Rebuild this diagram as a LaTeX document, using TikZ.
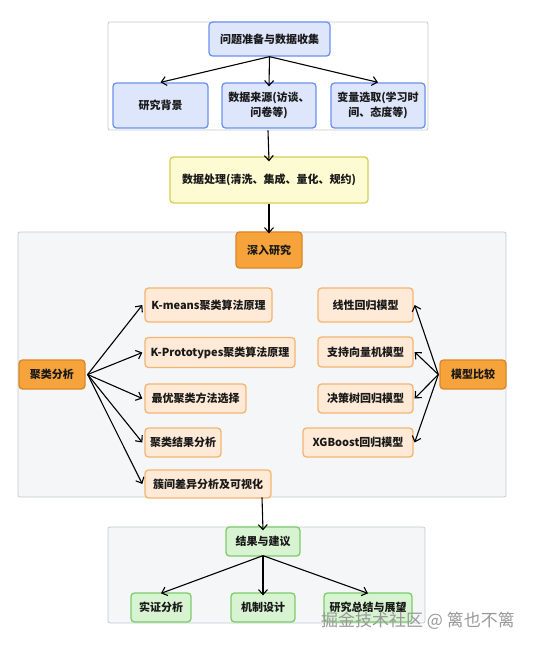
\documentclass[tikz,border=0pt]{standalone}
\usepackage{fontspec}
\setmainfont{Noto Sans CJK SC}
\usepackage{tikz}
\usetikzlibrary{positioning,arrows.meta}

\definecolor{blueFill}{HTML}{DDE6FB}
\definecolor{blueLine}{HTML}{6C91EE}
\definecolor{yellowFill}{HTML}{FDFBD1}
\definecolor{yellowLine}{HTML}{D6CE58}
\definecolor{orangeFill}{HTML}{F6A33C}
\definecolor{orangeLine}{HTML}{DC8727}
\definecolor{peachFill}{HTML}{FEEAD6}
\definecolor{peachLine}{HTML}{F5B572}
\definecolor{greenFill}{HTML}{D8F3D1}
\definecolor{greenLine}{HTML}{7BCE68}
\definecolor{groupFill}{HTML}{F4F6F8}
\definecolor{groupLine}{HTML}{C6C9CE}

\tikzset{%
  box/.style={rounded corners=3.5pt, line width=1.3pt, align=center, inner sep=2pt,
    font=\bfseries\fontsize{11}{14.5}\selectfont, text=black!90},
  bluebox/.style={box, draw=blueLine, fill=blueFill},
  yellowbox/.style={box, draw=yellowLine, fill=yellowFill},
  mainbox/.style={box, draw=orangeLine, fill=orangeFill},
  subbox/.style={box, draw=peachLine, fill=peachFill},
  greenbox/.style={box, draw=greenLine, fill=greenFill},
  group/.style={draw=groupLine, rounded corners=2pt, line width=0.8pt},
  link/.style={draw, -{Straight Barb[length=5pt,width=9pt,line width=1.1pt]}, line width=1.1pt, black}
}

\begin{document}
\begin{tikzpicture}[x=1pt, y=-1pt]
    \useasboundingbox (0,0) rectangle (533,646);

    % groups behind everything
    \node[group, fill=white, minimum width=320, minimum height=108] (top) at (268,76) {};
    \node[group, fill=groupFill, minimum width=488, minimum height=265] (mid) at (262,364.5) {};
    \node[group, fill=groupFill, minimum width=317, minimum height=96] (bot) at (266.5,575) {};

    % data collection
    \node[bluebox, minimum width=121, minimum height=34] (prep) at (269.5,39) {问题准备与数据收集};
    \node[bluebox, minimum width=95, minimum height=45] (bg) at (160.5,105.5) {研究背景};
    \node[bluebox, minimum width=94, minimum height=45] (src) at (269,105.5) {数据来源(访谈、\\问卷等)};
    \node[bluebox, minimum width=94, minimum height=45] (var) at (378,105.5) {变量选取(学习时\\间、态度等)};

    \node[yellowbox, minimum width=198, minimum height=46] (proc) at (269,180) {数据处理(清洗、集成、量化、规约)};

    % research
    \node[mainbox, minimum width=66, minimum height=36] (deep) at (269,250) {深入研究};
    \node[mainbox, minimum width=66, minimum height=29] (clus) at (52,374.5) {聚类分析};
    \node[mainbox, minimum width=66, minimum height=29] (model) at (473,374.5) {模型比较};

    \node[subbox, minimum width=127, minimum height=34] (km) at (208.5,305) {K-means聚类算法原理};
    \node[subbox, minimum width=150, minimum height=30] (kp) at (220,352.5) {K-Prototypes聚类算法原理};
    \node[subbox, minimum width=101, minimum height=29] (opt) at (195.5,398.5) {最优聚类方法选择};
    \node[subbox, minimum width=76, minimum height=29] (res) at (183,442.5) {聚类结果分析};
    \node[subbox, minimum width=126, minimum height=28] (diff) at (208,484) {簇间差异分析及可视化};

    \node[subbox, minimum width=95, minimum height=34] (lin) at (365.5,305) {线性回归模型};
    \node[subbox, minimum width=95, minimum height=30] (svm) at (365.5,352) {支持向量机模型};
    \node[subbox, minimum width=95, minimum height=29] (dt) at (365.5,398.5) {决策树回归模型};
    \node[subbox, minimum width=110, minimum height=29] (xgb) at (358,442.5) {XGBoost回归模型};

    % results
    \node[greenbox, minimum width=74, minimum height=29] (sug) at (263,541.5) {结果与建议};
    \node[greenbox, minimum width=60, minimum height=29] (emp) at (161,607.5) {实证分析};
    \node[greenbox, minimum width=64, minimum height=29] (mech) at (263,607.5) {机制设计};
    \node[greenbox, minimum width=88, minimum height=29] (sum) at (368,607.5) {研究总结与展望};

    \path[link] (prep.south) -- (bg.north);
    \path[link] (prep.south) -- ([yshift=-4pt]src.north);
    \path[link] (prep.south) -- (var.north);
    \path[link] (top.south) -- ([yshift=-5pt]proc.north);
    \path[link] (proc.south) -- ([yshift=-2pt]deep.north);

    \foreach \n in {km,kp,opt,res,diff}
        \path[link] ([xshift=2pt]clus.east) -- ([xshift=-2pt]\n.west);
    \foreach \n in {lin,svm,dt,xgb}
        \path[link] ([xshift=-1pt]model.west) -- ([xshift=1pt]\n.east);

    \path[link] (mid.south) -- ([yshift=-4pt]sug.north);
    \path[link] ([yshift=1pt]sug.south) -- ([yshift=-1pt]emp.north);
    \path[link] ([yshift=1pt]sug.south) -- ([yshift=-3pt]mech.north);
    \path[link] ([yshift=1pt]sug.south) -- ([yshift=-1pt]sum.north);

    % watermark
    \node[text=gray!80, font=\fontsize{17}{19}\selectfont, anchor=east, inner sep=0pt] (mark) at (515,621) {掘金技术社区 @ 篱也不篱};
\end{tikzpicture}
\end{document}
